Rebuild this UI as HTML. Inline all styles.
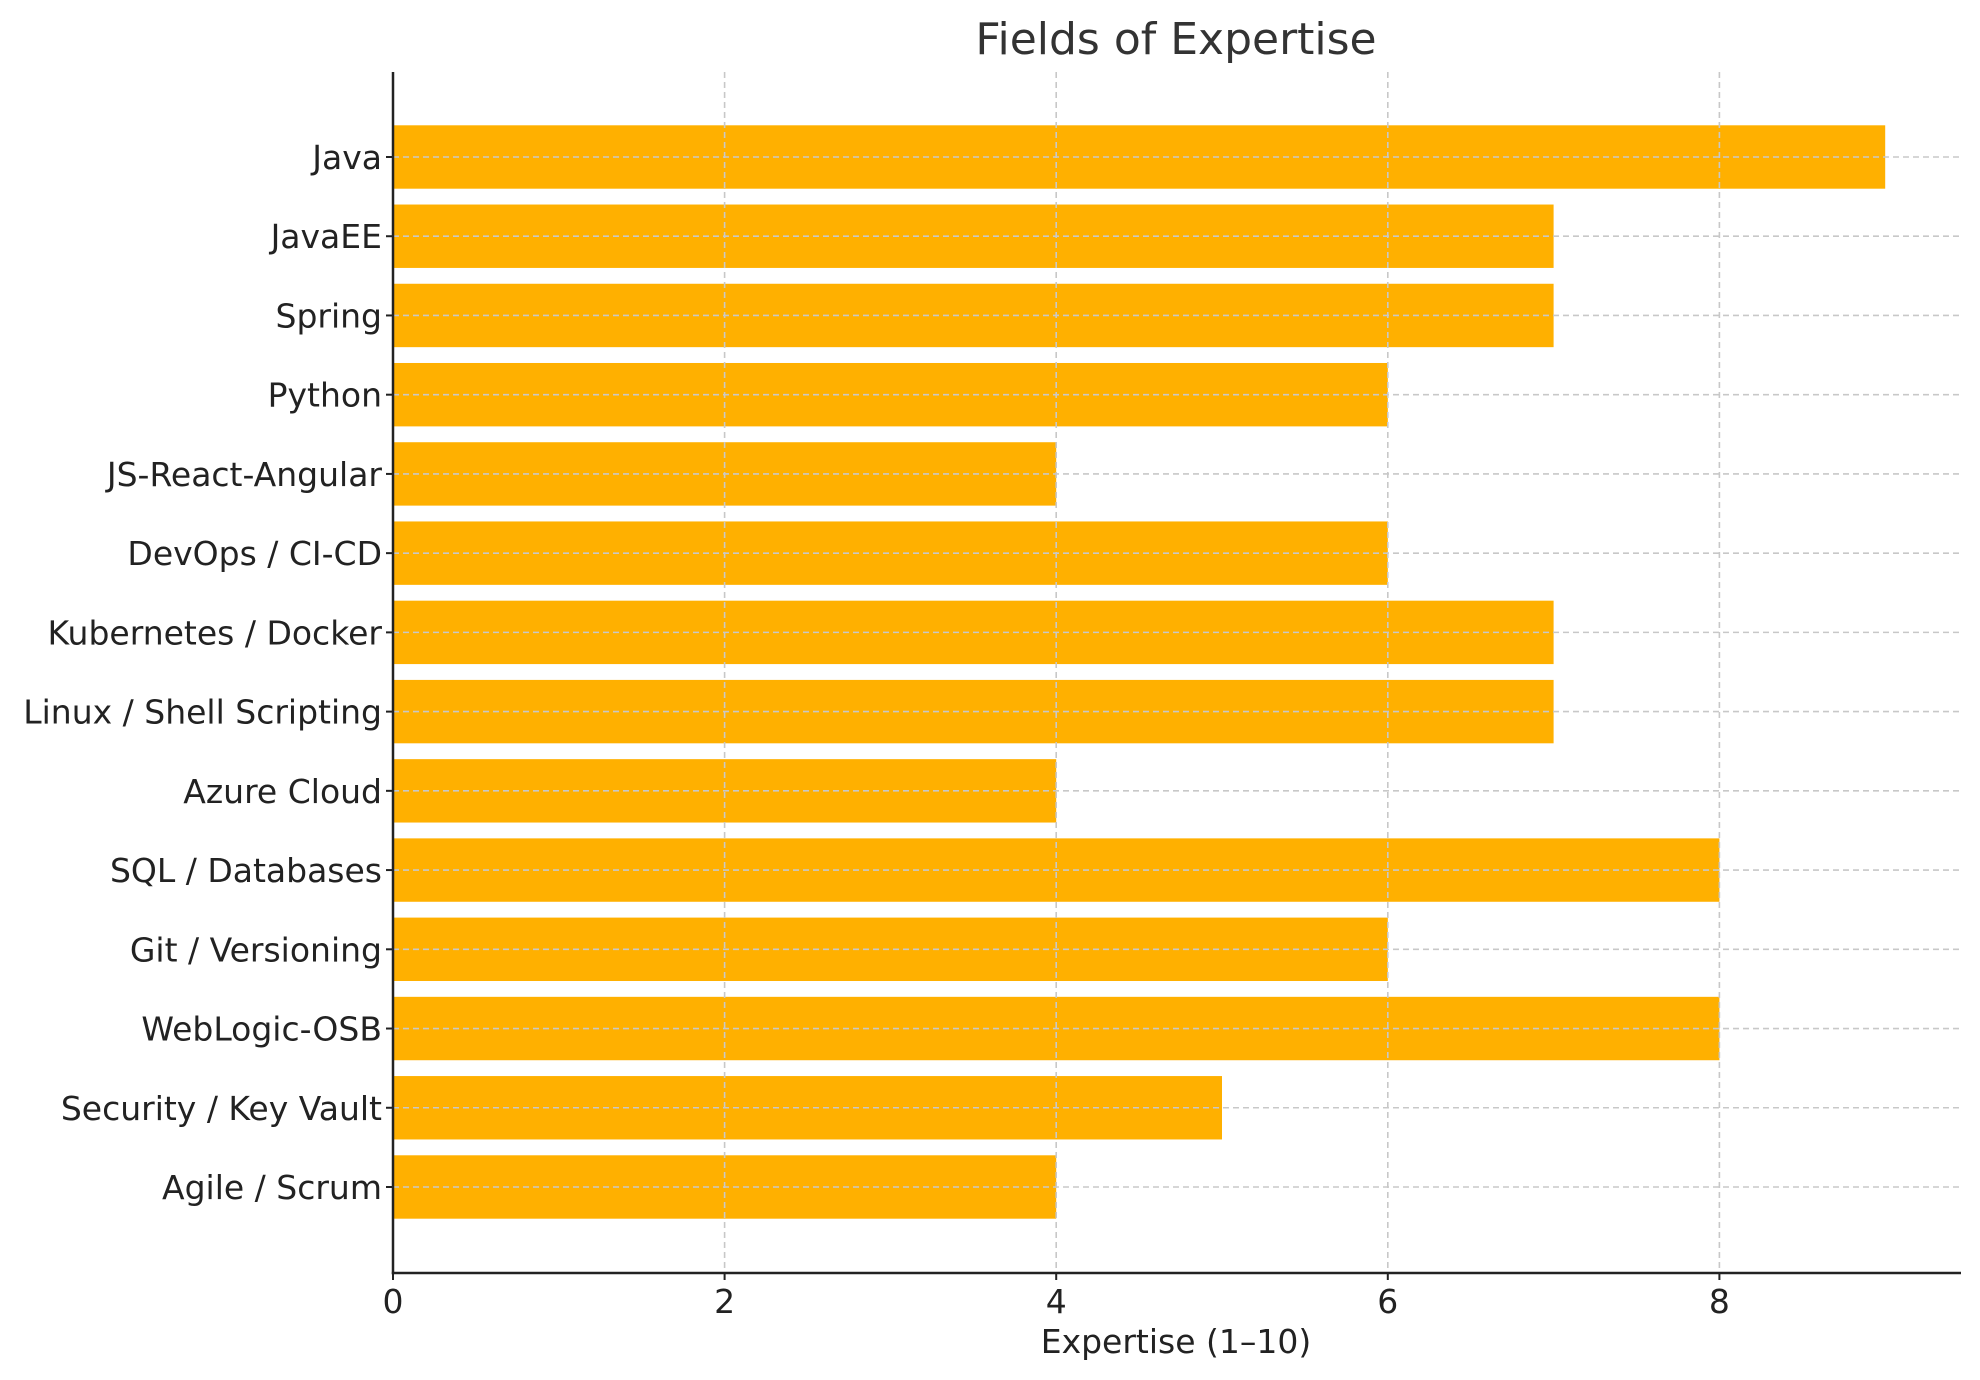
<!DOCTYPE html>
<html><head><meta charset="utf-8"><style>
html,body{margin:0;padding:0;background:#fff;}
svg{display:block;font-family:"DejaVu Sans","Liberation Sans",sans-serif;}
</style></head><body>
<svg id="chart" width="1980" height="1380" viewBox="0 0 1980 1380" xmlns="http://www.w3.org/2000/svg">
<text x="1176" y="54" font-size="44" fill="#333" text-anchor="middle">Fields of Expertise</text>
<g id="bars"></g>
<g id="grid"></g>
<g id="axes"></g>
<text x="1176" y="1353" font-size="33" fill="#222" text-anchor="middle">Expertise (1–10)</text>
</svg>
<script>
const categories = ["Java","JavaEE","Spring","Python","JS-React-Angular","DevOps / CI-CD","Kubernetes / Docker","Linux / Shell Scripting","Azure Cloud","SQL / Databases","Git / Versioning","WebLogic-OSB","Security / Key Vault","Agile / Scrum"];
const values = [9,7,7,6,4,6,7,7,4,8,6,8,5,4];
const xTicks = [0,2,4,6,8];

const NS = "http://www.w3.org/2000/svg";
const x0 = 393, unit = 165.8, axTop = 72, axBottom = 1273, axRight = 1961;
const yTop = 157, step = 79.23, barH = 63.4;
const xs = v => x0 + v * unit;
const ys = i => yTop + i * step;
function mk(tag, attrs, parent){ const e=document.createElementNS(NS,tag); for(const k in attrs) e.setAttribute(k,attrs[k]); parent.appendChild(e); return e; }
const bars = document.getElementById('bars'), grid = document.getElementById('grid'), axes = document.getElementById('axes');

categories.forEach((c,i)=>{
  const r = mk('rect',{x:x0,y:ys(i)-barH/2,width:xs(values[i])-x0,height:barH,fill:'#ffb000'},bars);
  
  
  const g = mk('line',{x1:x0,x2:axRight,y1:ys(i),y2:ys(i),stroke:'#c8c8c8','stroke-width':1.6,'stroke-dasharray':'6,4'},grid);
  
  
  const t = mk('line',{x1:x0-7,x2:x0,y1:ys(i),y2:ys(i),stroke:'#222','stroke-width':2},axes);
  
  
  const l = mk('text',{x:x0-11,y:ys(i)+12,'font-size':33,fill:'#222','text-anchor':'end'},axes);
  l.textContent = c;
  
  
});
xTicks.forEach(v=>{
  const g = mk('line',{x1:xs(v),x2:xs(v),y1:axTop,y2:axBottom,stroke:'#c8c8c8','stroke-width':1.6,'stroke-dasharray':'6,4'},grid);
  
  
  const t = mk('line',{x1:xs(v),x2:xs(v),y1:axBottom,y2:axBottom+7,stroke:'#222','stroke-width':2},axes);
  
  
  const l = mk('text',{x:xs(v),y:axBottom+40,'font-size':33,fill:'#222','text-anchor':'middle'},axes);
  l.textContent = v;
  
  
});
const ly = mk('line',{x1:x0,x2:x0,y1:axTop,y2:axBottom+1.2,stroke:'#222','stroke-width':2.5},axes);


const lx = mk('line',{x1:x0-1.2,x2:axRight,y1:axBottom,y2:axBottom,stroke:'#222','stroke-width':2.5},axes);


</script>
</body></html>
